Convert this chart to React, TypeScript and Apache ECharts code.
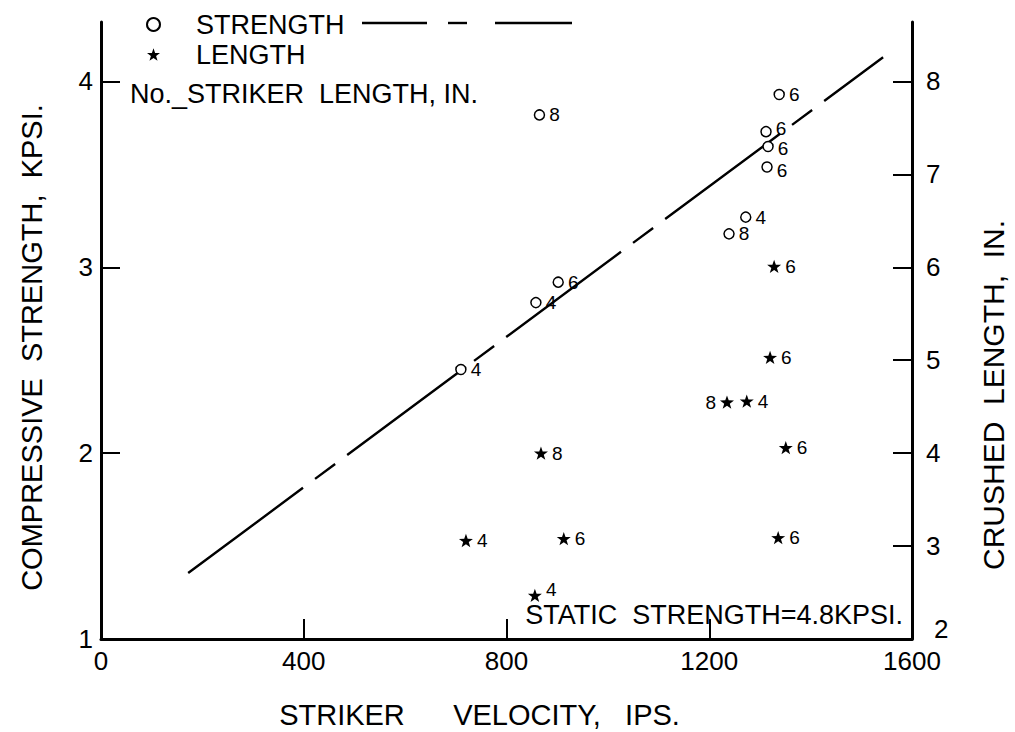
import React, { useEffect, useRef } from "react";
import * as echarts from "echarts";

// ---- data ----
const xLabelValues = [0, 400, 800, 1200, 1600];
const xTickValues = [400, 800, 1200];
const leftLabelValues = [1, 2, 3, 4];
const leftTickValues = [2, 3, 4];
const rightLabelValues = [2, 3, 4, 5, 6, 7, 8];
const rightTickValues = [3, 4, 5, 6, 7, 8];

// compressive strength (kpsi) vs striker velocity (ips), label = striker length (in)
const strengthVel = [865, 1338, 1312, 1316, 1314, 1272, 1239, 902, 858, 710];
const strengthKpsi = [3.82, 3.93, 3.73, 3.65, 3.54, 3.27, 3.18, 2.92, 2.81, 2.45];
const strengthStriker = [8, 6, 6, 6, 6, 4, 8, 6, 4, 4];

// crushed length (in) vs striker velocity (ips), label = striker length (in)
const lengthVel = [1328, 1320, 1235, 1274, 1351, 868, 720, 913, 1336, 856];
const lengthIn = [6.01, 5.03, 4.55, 4.56, 4.06, 4.0, 3.06, 3.08, 3.09, 2.47];
const lengthStriker = [6, 6, 8, 4, 6, 8, 4, 6, 6, 4];

// fitted strength line
const fitVel = [172, 1543];
const fitKpsi = [1.355, 4.13];

const FONT = "'Liberation Sans', Arial, Helvetica, sans-serif";
const STAR =
  "path://M0,-10L2.35,-3.24L9.51,-3.09L3.8,1.24L5.88,8.09L0,4L-5.88,8.09L-3.8,1.24L-9.51,-3.09L-2.35,-3.24Z";
const LEFT_LABEL_STAR = 2; // the "8" star whose number sits on its left
const RAISED_LABEL_STAR = 9; // the low "4" star whose number sits up and right
// three close "6" circles: nudge their numbers apart vertically
const circleLabelNudge: Record<number, number> = { 2: -3, 3: 2, 4: 4 };

function buildOption() {
  const strengthData = strengthVel.map((v, i) => {
    const item: any = { value: [v, strengthKpsi[i], strengthStriker[i]] };
    if (circleLabelNudge[i] !== undefined) item.label = { offset: [0, circleLabelNudge[i]] };
    return item;
  });
  const lengthData = lengthVel.map((v, i) => {
    const item: any = { value: [v, lengthIn[i], lengthStriker[i]] };
    if (i === LEFT_LABEL_STAR) item.label = { position: "left" };
    if (i === RAISED_LABEL_STAR) item.label = { offset: [0, -6] };
    return item;
  });
  const fitData = fitVel.map((v, i) => [v, fitKpsi[i]]);

  const axisLineStyle = { color: "#000", width: 3 };
  const tickStyle = { color: "#000", width: 2 };
  const labelFont = { color: "#000", fontFamily: FONT, fontSize: 26, lineHeight: 20 };
  const pointLabel = {
    show: true,
    position: "right",
    distance: 4,
    color: "#000",
    fontFamily: FONT,
    fontSize: 19,
    lineHeight: 14,
    formatter: (p: any) => String(p.value[2]),
  };

  return {
    animation: false,
    backgroundColor: "#fff",
    textStyle: { fontFamily: FONT, color: "#000" },
    grid: { left: 101, right: 103, top: 22, bottom: 93, containLabel: false, outerBoundsMode: "none" },
    legend: {
      orient: "vertical",
      left: 141,
      top: 6,
      itemWidth: 13,
      itemHeight: 13,
      itemGap: 3,
      data: [
        { name: "STRENGTH", icon: "circle" },
        { name: "LENGTH", icon: STAR },
      ],
      textStyle: { color: "#000", fontFamily: FONT, fontSize: 27, padding: [0, 0, 0, 31] },
    },
    xAxis: {
      type: "value",
      min: 0,
      max: 1600,
      interval: 400,
      name: "STRIKER      VELOCITY,   IPS.",
      nameLocation: "middle",
      nameGap: 61,
      nameTextStyle: { color: "#000", fontFamily: FONT, fontSize: 29, padding: [0, 54, 0, 0] },
      axisLine: { show: true, onZero: false, lineStyle: axisLineStyle },
      axisTick: { show: true, inside: true, length: 20, customValues: xTickValues, lineStyle: tickStyle },
      axisLabel: { ...labelFont, margin: 12, customValues: xLabelValues, formatter: (v: number) => String(v) },
      splitLine: { show: false },
    },
    yAxis: [
      {
        type: "value",
        position: "left",
        min: 1,
        max: 4.32,
        interval: 1,
        name: "COMPRESSIVE  STRENGTH,  KPSI.",
        nameLocation: "middle",
        nameGap: 55,
        nameTextStyle: { color: "#000", fontFamily: FONT, fontSize: 29, padding: [0, 34, 0, 0] },
        axisLine: { show: true, onZero: false, lineStyle: axisLineStyle },
        axisTick: { show: true, inside: true, length: 19, customValues: leftTickValues, lineStyle: tickStyle },
        axisLabel: { ...labelFont, margin: 8, customValues: leftLabelValues, formatter: (v: number) => String(v) },
        splitLine: { show: false },
      },
      {
        type: "value",
        position: "right",
        min: 2,
        max: 8.64,
        interval: 1,
        name: "CRUSHED  LENGTH,  IN.",
        nameLocation: "middle",
        nameGap: 66,
        nameTextStyle: { color: "#000", fontFamily: FONT, fontSize: 30, padding: [0, 129, 0, 0] },
        axisLine: { show: true, onZero: false, lineStyle: axisLineStyle },
        axisTick: { show: true, inside: true, length: 19, customValues: rightTickValues, lineStyle: tickStyle },
        axisLabel: {
          ...labelFont,
          margin: 14,
          customValues: rightLabelValues,
          formatter: (v: number) => (v === 2 ? "{raised|2}" : String(v)),
          rich: {
            raised: { color: "#000", fontFamily: FONT, fontSize: 26, lineHeight: 20, padding: [0, 0, 20, 8] },
          },
        },
        splitLine: { show: false },
      },
    ],
    series: [
      {
        name: "fit",
        type: "line",
        yAxisIndex: 0,
        data: fitData,
        symbol: "none",
        silent: true,
        lineStyle: { color: "#000", width: 2.4, type: [143, 15, 25, 15], cap: "butt" },
        z: 1,
      },
      {
        name: "STRENGTH",
        type: "scatter",
        yAxisIndex: 0,
        data: strengthData,
        symbol: "circle",
        symbolSize: 10,
        itemStyle: { color: "#fff", borderColor: "#000", borderWidth: 1.5, opacity: 1 },
        label: pointLabel,
        z: 3,
      },
      {
        name: "LENGTH",
        type: "scatter",
        yAxisIndex: 1,
        data: lengthData,
        symbol: STAR,
        symbolSize: [14, 13.3],
        itemStyle: { color: "#000", opacity: 1 },
        label: pointLabel,
        z: 3,
      },
    ],
    graphic: [
      { type: "line", shape: { x1: 362, y1: 23, x2: 427, y2: 23 }, style: { stroke: "#000", lineWidth: 2.4 } },
      { type: "line", shape: { x1: 448, y1: 23, x2: 467, y2: 23 }, style: { stroke: "#000", lineWidth: 2.4 } },
      { type: "line", shape: { x1: 495, y1: 23, x2: 572, y2: 23 }, style: { stroke: "#000", lineWidth: 2.4 } },
      {
        type: "text",
        x: 130,
        y: 94,
        style: {
          text: "No._STRIKER  LENGTH, IN.",
          fill: "#000",
          font: "27px " + FONT,
          textAlign: "left",
          textVerticalAlign: "middle",
        },
      },
      {
        type: "text",
        x: 903,
        y: 615,
        style: {
          text: "STATIC  STRENGTH=4.8KPSI.",
          fill: "#000",
          font: "27px " + FONT,
          textAlign: "right",
          textVerticalAlign: "middle",
        },
      },
    ],
  };
}

export default function App() {
  const ref = useRef<HTMLDivElement>(null);
  useEffect(() => {
    document.body.style.margin = "0";
    const chart = echarts.init(ref.current as HTMLDivElement, null, { renderer: "svg" });
    chart.setOption(buildOption() as any);
    return () => chart.dispose();
  }, []);
  return <div ref={ref} style={{ width: 1015, height: 732, overflow: "hidden" }} />;
}
